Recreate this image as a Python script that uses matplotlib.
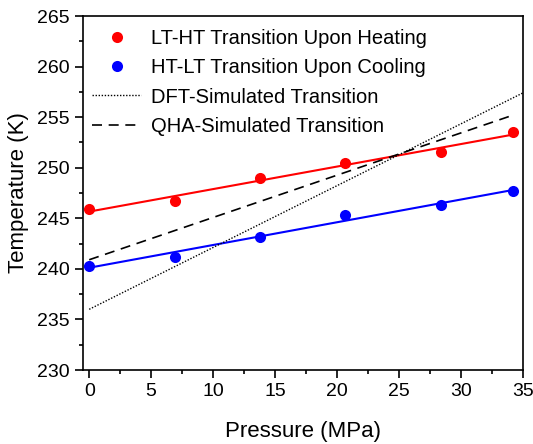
import numpy as np
import matplotlib
matplotlib.use("Agg")
import matplotlib.pyplot as plt
from matplotlib.ticker import MultipleLocator

plt.rcParams['font.family'] = ['Liberation Sans', 'DejaVu Sans']

pressure = [0.0, 6.9, 13.75, 20.6, 28.4, 34.2]
heating = [245.9, 246.7, 248.96, 250.47, 251.56, 253.5]
cooling = [240.3, 241.2, 243.16, 245.34, 246.32, 247.7]
dft_p = [0.0, 35.0]
dft_t = [236.0, 257.4]
qha_p = [0.0, 34.2]
qha_t = [240.9, 255.2]

fig = plt.figure(figsize=(5.33, 4.44), dpi=100)
ax = fig.add_axes([83/533, 1-370/444, (523-83)/533, (370-16)/444])

# fits
xs = np.array([pressure[0], pressure[-1]])
ch = np.polyfit(pressure, heating, 1)
cc = np.polyfit(pressure, cooling, 1)
ax.plot(xs, np.polyval(ch, xs), color='red', lw=1.5, zorder=2)
ax.plot(xs, np.polyval(cc, xs), color='blue', lw=1.5, zorder=2)

ax.plot(pressure, heating, 'o', color='red', ms=8, mec='none', zorder=3,
        label='LT-HT Transition Upon Heating')
ax.plot(pressure, cooling, 'o', color='blue', ms=8, mec='none', zorder=3,
        label='HT-LT Transition Upon Cooling')
ax.plot(dft_p, dft_t, color='black', lw=1.0, ls=(0, (1, 1.2)),
        label='DFT-Simulated Transition')
ax.plot(qha_p, qha_t, color='black', lw=1.2, ls=(0, (6, 4)),
        label='QHA-Simulated Transition')

ax.set_xlim(-0.5, 35)
ax.set_ylim(230, 265)
ax.xaxis.set_major_locator(MultipleLocator(5))
ax.xaxis.set_minor_locator(MultipleLocator(2.5))
ax.yaxis.set_major_locator(MultipleLocator(5))
ax.yaxis.set_minor_locator(MultipleLocator(2.5))
ax.tick_params(which='both', direction='out', top=False, right=False, width=1.2)
ax.tick_params(which='major', length=6, labelsize=14)
ax.tick_params(which='minor', length=3)
for s in ax.spines.values():
    s.set_linewidth(1.2)

ax.set_xlabel('Pressure (MPa)', fontsize=16, labelpad=15)
ax.set_ylabel('Temperature (K)', fontsize=16, labelpad=6)

ax.legend(loc='upper left', frameon=False, fontsize=14.5, handlelength=2.4,
          handletextpad=0.5, labelspacing=0.5, borderaxespad=0.0,
          bbox_to_anchor=(0.003, 0.985))

fig.savefig('out.png', dpi=100)
